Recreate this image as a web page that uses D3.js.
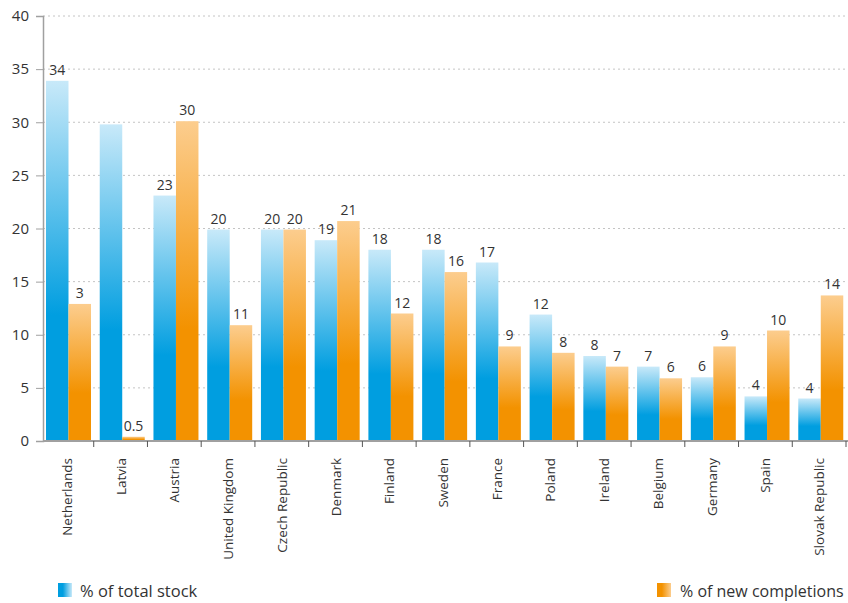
<!DOCTYPE html>
<html>
<head>
<meta charset="utf-8">
<script src="https://cdn.jsdelivr.net/npm/d3@7"></script>
<style>
body { margin: 0; background: #fff; }
text { font-family: "Open Sans", "Noto Sans", sans-serif; fill: #333; }
</style>
</head>
<body>
<div id="chart"></div>
<script>
var countries = ['Netherlands', 'Latvia', 'Austria', 'United Kingdom', 'Czech Republic', 'Denmark',
	'Finland', 'Sweden', 'France', 'Poland', 'Ireland', 'Belgium', 'Germany', 'Spain', 'Slovak Republic'];
var totalStock = [33.9, 29.8, 23.1, 19.9, 19.9, 18.9, 18.0, 18.0, 16.8, 11.9, 8.0, 7.0, 6.0, 4.2, 4.0];
var newCompletions = [12.9, 0.4, 30.1, 10.9, 19.9, 20.7, 12.0, 15.9, 8.9, 8.3, 7.0, 5.9, 8.9, 10.4, 13.7];
var totalStockLabels = ['34', '', '23', '20', '20', '19', '18', '18', '17', '12', '8', '7', '6', '4', '4'];
var newCompletionsLabels = ['3', '0.5', '30', '11', '20', '21', '12', '16', '9', '8', '7', '6', '9', '10', '14'];
var yTicks = [0, 5, 10, 15, 20, 25, 30, 35, 40];
var seriesNames = ['% of total stock', '% of new completions'];

var width = 848;
var height = 603;

var svg = d3.select('#chart')
	.append('svg')
	.attr('width', width)
	.attr('height', height);

var defs = svg.append('defs');

function addGradient(id, light, solid, horizontal) {
	var g = defs.append('linearGradient').attr('id', id);
	if (horizontal) {
		g.attr('x1', 0).attr('y1', 0).attr('x2', 1).attr('y2', 0);
		g.append('stop').attr('offset', '0%').attr('stop-color', solid);
		g.append('stop').attr('offset', '35%').attr('stop-color', solid);
		g.append('stop').attr('offset', '100%').attr('stop-color', light);
	} else {
		g.attr('x1', 0).attr('y1', 0).attr('x2', 0).attr('y2', 1);
		g.append('stop').attr('offset', '0%').attr('stop-color', light);
		g.append('stop').attr('offset', '65%').attr('stop-color', solid);
		g.append('stop').attr('offset', '100%').attr('stop-color', solid);
	}
}
addGradient('blueGrad', '#c8e9f9', '#009ee0', false);
addGradient('orangeGrad', '#fccd8e', '#f39200', false);
addGradient('blueLeg', '#c8e9f9', '#009ee0', true);
addGradient('orangeLeg', '#fccd8e', '#f39200', true);

var x = d3.scaleBand()
	.domain(countries)
	.range([40, 846])
	.padding(0);

var y = d3.scaleLinear()
	.domain([0, 40])
	.range([441, 16]);

// gridlines
svg.append('g')
	.selectAll('line')
	.data(yTicks.slice(1))
	.enter()
	.append('line')
	.attr('x1', 43)
	.attr('x2', 848)
	.attr('y1', function(d) { return y(d); })
	.attr('y2', function(d) { return y(d); })
	.attr('stroke', '#c4c4c4')
	.attr('stroke-dasharray', '2,3');

var barW = 22.5;
var off = 6;

var bars = svg.append('g');
bars.selectAll('.blue')
	.data(totalStock)
	.enter()
	.append('rect')
	.attr('x', function(d, i) { return x(countries[i]) + off; })
	.attr('y', function(d) { return y(d); })
	.attr('width', barW)
	.attr('height', function(d) { return y(0) - y(d); })
	.attr('fill', 'url(#blueGrad)');

bars.selectAll('.orange')
	.data(newCompletions)
	.enter()
	.append('rect')
	.attr('x', function(d, i) { return x(countries[i]) + off + barW; })
	.attr('y', function(d) { return y(d); })
	.attr('width', barW)
	.attr('height', function(d) { return y(0) - y(d); })
	.attr('fill', 'url(#orangeGrad)');

// value labels
var labels = svg.append('g')
	.attr('font-size', 14)
	.attr('text-anchor', 'middle');
labels.selectAll('.bl')
	.data(totalStock)
	.enter()
	.append('text')
	.attr('x', function(d, i) { return x(countries[i]) + off + barW / 2; })
	.attr('y', function(d) { return y(d) - 6; })
	.text(function(d, i) { return totalStockLabels[i]; });
labels.selectAll('.ol')
	.data(newCompletions)
	.enter()
	.append('text')
	.attr('x', function(d, i) { return x(countries[i]) + off + barW * 1.5; })
	.attr('y', function(d) { return y(d) - 6; })
	.text(function(d, i) { return newCompletionsLabels[i]; });

// y axis
var yAxis = d3.axisLeft(y)
	.tickValues(yTicks)
	.tickSize(7)
	.tickPadding(7);
var yg = svg.append('g')
	.attr('transform', 'translate(43,0)')
	.call(yAxis);
yg.select('.domain').attr('stroke', '#a0a0a0').attr('stroke-width', 1.5);
yg.selectAll('.tick line').attr('stroke', '#a0a0a0');
yg.selectAll('.tick text').attr('font-size', 15).attr('fill', '#333')
	.attr('font-family', '"Open Sans", "Noto Sans", sans-serif');

// x axis
var xg = svg.append('g')
	.attr('transform', 'translate(0,' + y(0) + ')');
xg.append('line')
	.attr('x1', 43)
	.attr('x2', 848)
	.attr('stroke', '#a0a0a0')
	.attr('stroke-width', 2);
xg.selectAll('.xt')
	.data(countries)
	.enter()
	.append('line')
	.attr('x1', function(d) { return x(d) + x.bandwidth(); })
	.attr('x2', function(d) { return x(d) + x.bandwidth(); })
	.attr('y1', 0)
	.attr('y2', 6)
	.attr('stroke', '#555');
xg.selectAll('.xl')
	.data(countries)
	.enter()
	.append('text')
	.attr('transform', function(d) {
		return 'translate(' + (x(d) + x.bandwidth() / 2 + 5) + ',17) rotate(-90)';
	})
	.attr('text-anchor', 'end')
	.attr('font-size', 13.5)
	.text(function(d) { return d; });

// legend
var legend = svg.append('g');
legend.append('rect')
	.attr('x', 58).attr('y', 583).attr('width', 14).attr('height', 14)
	.attr('fill', 'url(#blueLeg)');
legend.append('text')
	.attr('x', 80).attr('y', 597).attr('font-size', 16.5)
	.text(seriesNames[0]);
legend.append('rect')
	.attr('x', 657).attr('y', 583).attr('width', 14).attr('height', 14)
	.attr('fill', 'url(#orangeLeg)');
legend.append('text')
	.attr('x', 680).attr('y', 597).attr('font-size', 16)
	.text(seriesNames[1]);
</script>
</body>
</html>
